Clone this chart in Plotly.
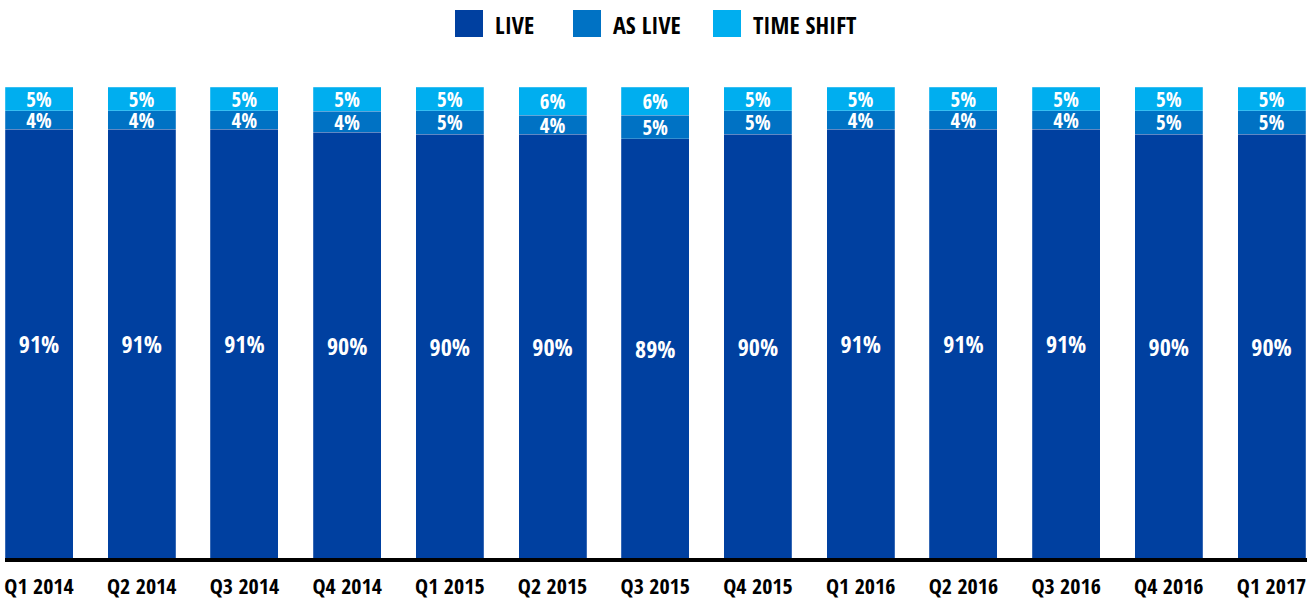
import plotly.graph_objects as go

quarters = ["Q1 2014", "Q2 2014", "Q3 2014", "Q4 2014", "Q1 2015", "Q2 2015", "Q3 2015",
            "Q4 2015", "Q1 2016", "Q2 2016", "Q3 2016", "Q4 2016", "Q1 2017"]
live = [91, 91, 91, 90.4, 90, 90, 89, 90, 91, 91, 91, 90, 90]
as_live = [4, 4, 4, 4.4, 5, 4, 5, 5, 4, 4, 4, 5, 5]
time_shift = [5, 5, 5, 5.2, 5, 6, 6, 5, 5, 5, 5, 5, 5]

series = [("LIVE", live, "#0040A0", 24), ("AS LIVE", as_live, "#0072C4", 21),
          ("TIME SHIFT", time_shift, "#00AEEF", 21)]

FONT = "Open Sans Condensed, Roboto Condensed, Open Sans, sans-serif"
W, H = 1316, 601
T, B = 87, 558

fig = go.Figure()
for name, vals, col, fs in series:
    fig.add_trace(go.Bar(
        x=list(range(len(quarters))), y=vals, name=name,
        marker=dict(color=col, line=dict(color="rgba(255,255,255,0.35)", width=0.6)),
        texttemplate="%{y:.0f}%", textposition="inside", insidetextanchor="middle",
        constraintext="none", textangle=0,
        textfont=dict(family=FONT, size=fs, color="white", weight="bold"),
        showlegend=False, hoverinfo="skip",
    ))

unit = 102.71
r0 = -39 / unit
r1 = r0 + W / unit

def px(x):
    return x / W

def py(y):
    return (B - y) / (B - T)

shapes = [dict(type="line", xref="paper", yref="paper", x0=px(5), x1=px(1307),
               y0=py(560), y1=py(560), line=dict(color="black", width=4))]
annotations = []
legend_items = [("LIVE", 455, "#0040A0"), ("AS LIVE", 573, "#0072C4"), ("TIME SHIFT", 713, "#00AEEF")]
for name, x0, col in legend_items:
    shapes.append(dict(type="rect", xref="paper", yref="paper", x0=px(x0), x1=px(x0 + 28),
                       y0=py(37), y1=py(10), fillcolor=col, line=dict(width=0)))
    annotations.append(dict(xref="paper", yref="paper", x=px(x0 + 38), y=py(24), text=name,
                            showarrow=False, xanchor="left", yanchor="middle",
                            font=dict(family=FONT, size=24, color="black", weight="bold")))

fig.update_layout(
    width=W, height=H, barmode="stack", bargap=0.338,
    margin=dict(l=0, r=0, t=T, b=H - B),
    plot_bgcolor="white", paper_bgcolor="white",
    xaxis=dict(range=[r0, r1], tickmode="array", tickvals=list(range(len(quarters))),
               ticktext=quarters, showgrid=False, zeroline=False, showline=False,
               ticks="", ticklabelstandoff=13, automargin=False, tickangle=0,
               tickfont=dict(family=FONT, size=22, color="black", weight="bold")),
    yaxis=dict(range=[0, 100], visible=False, showgrid=False),
    shapes=shapes, annotations=annotations,
)

fig.write_html("out.html", config={"displayModeBar": False},
               post_script="document.body.style.margin='0';")
